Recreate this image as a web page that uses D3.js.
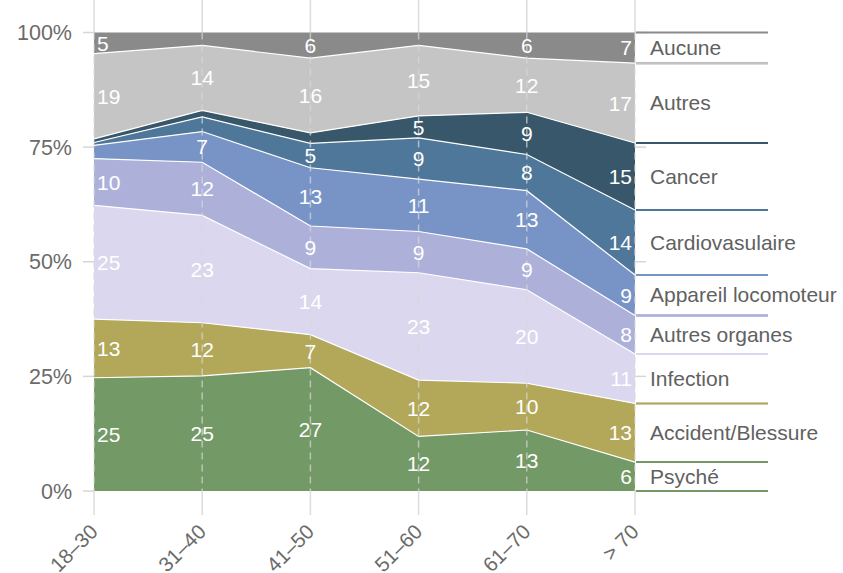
<!DOCTYPE html>
<html>
<head>
<meta charset="utf-8">
<script src="https://cdn.jsdelivr.net/npm/d3@7"></script>
<style>
  body { margin: 0; background: #fff; }
  text { font-family: "Liberation Sans", Arial, Helvetica, sans-serif; }
</style>
</head>
<body>
<div id="chart"></div>
<script>
// Age groups and causes (bottom to top of the stack)
var ages = ["18–30", "31–40", "41–50", "51–60", "61–70", "> 70"];
var causes = ["Psyché", "Accident/Blessure", "Infection", "Autres organes",
  "Appareil locomoteur", "Cardiovasulaire", "Cancer", "Autres", "Aucune"];
var colors = ["#739966", "#b3a759", "#dbd7ee", "#adb1da",
  "#7894c6", "#4f7799", "#39576a", "#c5c5c5", "#8a8a8a"];

// Shares in % per age group
var psyche        = [24.7, 25.1, 26.9, 11.9, 13.3, 6.3];
var accident      = [12.8, 11.6, 7.2, 12.3, 10.2, 12.8];
var infection     = [24.8, 23.4, 14.4, 23.4, 20.4, 10.8];
var autresOrganes = [10.2, 11.6, 9.3, 9.0, 8.9, 8.4];
var appareil      = [2.9, 6.7, 12.7, 11.4, 12.7, 8.8];
var cardio        = [0.6, 3.2, 5.3, 9.0, 7.9, 14.2];
var cancer        = [0.8, 1.4, 2.3, 4.8, 9.2, 14.6];
var autres        = [18.6, 14.2, 16.3, 15.4, 11.8, 17.4];
var aucune        = [4.6, 2.8, 5.6, 2.8, 5.6, 6.7];

var yTicks = [0, 0.25, 0.5, 0.75, 1];
var yTickLabels = ["0%", "25%", "50%", "75%", "100%"];

var series = [psyche, accident, infection, autresOrganes, appareil, cardio, cancer, autres, aucune];

// build table rows for d3.stack
var table = ages.map(function (a, i) {
  var row = { age: a };
  causes.forEach(function (c, j) { row[c] = series[j][i]; });
  return row;
});

var width = 843, height = 573;
var x = d3.scalePoint().domain(ages).range([94, 635]);
var y = d3.scaleLinear().domain([0, 1]).range([491, 32.5]);

var stack = d3.stack().keys(causes).offset(d3.stackOffsetExpand);
var layers = stack(table);

var svg = d3.select("#chart").append("svg")
  .attr("width", width)
  .attr("height", height);

// vertical grid lines outside the plot (solid)
svg.selectAll(".vtop")
  .data(ages).enter().append("line")
  .attr("x1", function (d) { return x(d); })
  .attr("x2", function (d) { return x(d); })
  .attr("y1", 0).attr("y2", y(1))
  .attr("stroke", "#dcdcdc").attr("stroke-width", 1.5);
svg.selectAll(".vbot")
  .data(ages).enter().append("line")
  .attr("x1", function (d) { return x(d); })
  .attr("x2", function (d) { return x(d); })
  .attr("y1", y(0)).attr("y2", 515)
  .attr("stroke", "#dcdcdc").attr("stroke-width", 1.5);

// y ticks left and right
yTicks.forEach(function (t, i) {
  svg.append("line")
    .attr("x1", 83).attr("x2", 94)
    .attr("y1", y(t)).attr("y2", y(t))
    .attr("stroke", "#d6d6d6").attr("stroke-width", 1.5);
  svg.append("line")
    .attr("x1", 635).attr("x2", 646)
    .attr("y1", y(t)).attr("y2", y(t))
    .attr("stroke", "#d6d6d6").attr("stroke-width", 1.5);
  svg.append("text")
    .attr("x", 72).attr("y", y(t))
    .attr("dy", "0.36em")
    .attr("text-anchor", "end")
    .attr("font-size", 21.5)
    .attr("fill", "#6b6b6b")
    .text(yTickLabels[i]);
});

// areas
var area = d3.area()
  .x(function (d) { return x(d.data.age); })
  .y0(function (d) { return y(d[0]); })
  .y1(function (d) { return y(d[1]); });

svg.selectAll(".layer")
  .data(layers).enter().append("path")
  .attr("d", area)
  .attr("fill", function (d, i) { return colors[i]; });

// white boundaries between layers
var topLine = d3.line()
  .x(function (d) { return x(d.data.age); })
  .y(function (d) { return y(d[1]); });
svg.selectAll(".edge")
  .data(layers.slice(0, layers.length - 1)).enter().append("path")
  .attr("d", topLine)
  .attr("fill", "none")
  .attr("stroke", "#fff")
  .attr("stroke-width", 1.2);

// dashed grid lines inside the plot
svg.selectAll(".vmid")
  .data(ages).enter().append("line")
  .attr("x1", function (d) { return x(d); })
  .attr("x2", function (d) { return x(d); })
  .attr("y1", y(1)).attr("y2", y(0))
  .attr("stroke", "#d8d8d8").attr("stroke-opacity", 0.7)
  .attr("stroke-width", 1.5)
  .attr("stroke-dasharray", "7,5");

// value labels
layers.forEach(function (layer, j) {
  layer.forEach(function (d, i) {
    var v = series[j][i];
    if (v < 4) return;
    var xp = x(d.data.age), anchor = "middle";
    if (i === 0) { xp += 3; anchor = "start"; }
    if (i === ages.length - 1) { xp -= 3; anchor = "end"; }
    svg.append("text")
      .attr("x", xp)
      .attr("y", y((d[0] + d[1]) / 2))
      .attr("dy", "0.36em")
      .attr("text-anchor", anchor)
      .attr("font-size", 21)
      .attr("fill", "#fff")
      .text(Math.round(v));
  });
});

// right hand labels with coloured separators
var last = ages.length - 1;
for (var j = layers.length - 1; j >= 0; j--) {
  var d = layers[j][last];
  [d[0], d[1]].forEach(function (b) {
    svg.append("line")
      .attr("x1", 636).attr("x2", 768)
      .attr("y1", y(b)).attr("y2", y(b))
      .attr("stroke", colors[j]).attr("stroke-width", 2);
  });
  svg.append("text")
    .attr("x", 650)
    .attr("y", y((d[0] + d[1]) / 2))
    .attr("dy", "0.34em")
    .attr("font-size", 21)
    .attr("fill", "#616161")
    .text(causes[j]);
}

// x axis labels, rotated
svg.selectAll(".xlab")
  .data(ages).enter().append("text")
  .attr("transform", function (d) {
    return "translate(" + (x(d) + 5) + ",533) rotate(-45)";
  })
  .attr("text-anchor", "end")
  .attr("font-size", 20.5)
  .attr("fill", "#6b6b6b")
  .text(function (d) { return d; });
</script>
</body>
</html>
